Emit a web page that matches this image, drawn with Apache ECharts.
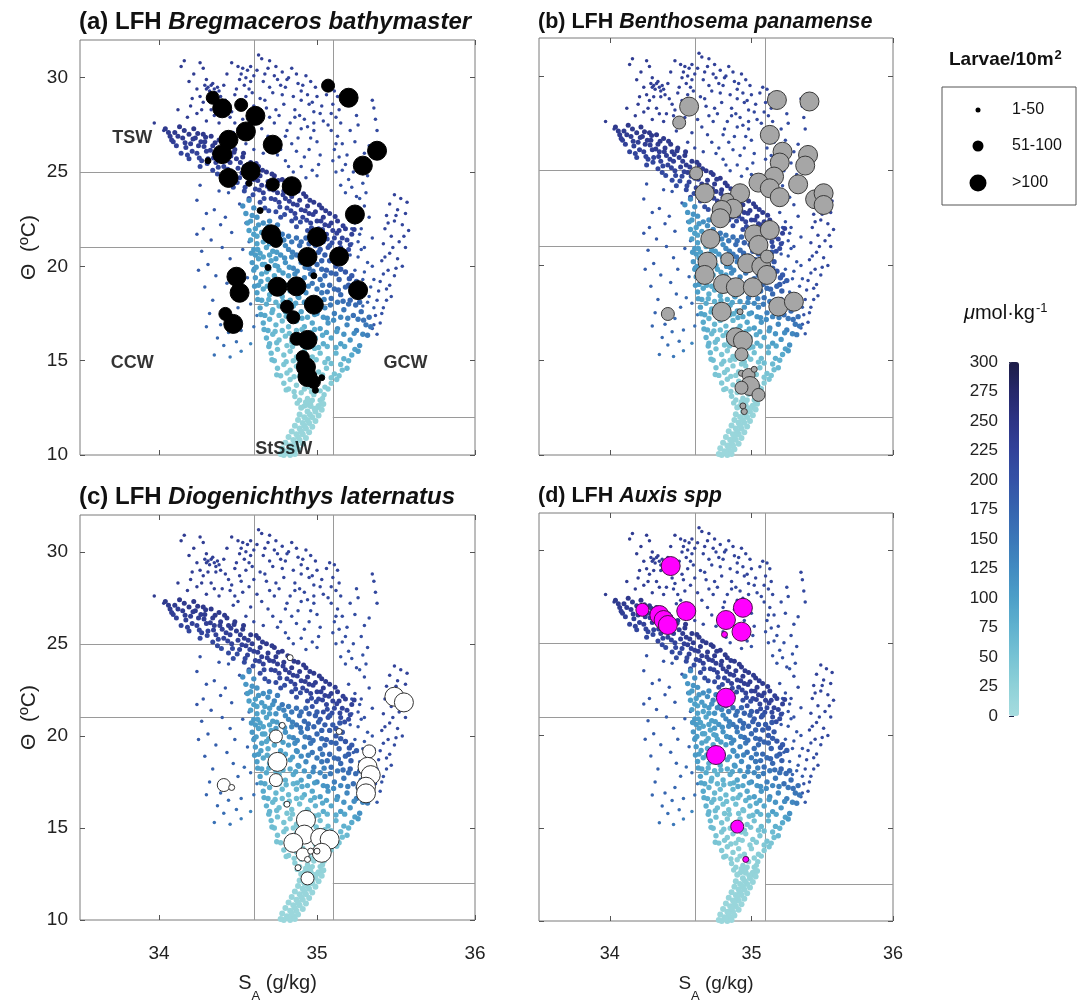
<!DOCTYPE html>
<html>
<head>
<meta charset="utf-8">
<title>LFH larvae on T-S diagrams</title>
<script src="https://cdn.jsdelivr.net/npm/echarts@6/dist/echarts.min.js"></script>
<style>
  html, body { margin: 0; padding: 0; background: #fff; }
  #chart { width: 1086px; height: 1004px; }
</style>
</head>
<body>
<div id="chart"></div>
<script>
// ---- axis ticks ----
const SAL_TICKS = [34, 35, 36];
const TEMP_TICKS = [10, 15, 20, 25, 30];
const O2_TICKS_STEP = 25;

// ---- CTD background: [S_A, Theta, O2 umol/kg] ----
const ctdUpper = [
  [33.97,27.6,236],[34.03,27.2,236],
  [34.16,30.9,235],[34.26,30.8,235],[34.28,30.5,232],[34.22,30.2,236],[34.30,29.9,232],
  [34.29,29.6,228],[34.31,29.5,230],[34.33,29.6,228],[34.35,29.4,226],[34.32,29.3,229],[34.37,29.5,227],[34.34,29.7,230],[34.30,29.4,231],[34.38,29.3,225],[34.36,29.2,224],
  [34.50,30.6,230],[34.53,30.5,228],[34.56,30.4,226],[34.58,30.6,229],[34.52,30.2,227],[34.55,30.0,225],[34.58,29.8,224],[34.54,29.6,226],[34.57,29.4,222],[34.59,29.2,220],[34.51,29.9,228],[34.60,30.1,223],[34.49,29.4,225],
  [34.42,28.8,225],[34.44,28.5,224],[34.46,28.2,222],[34.45,27.9,223],[34.48,27.6,220],[34.50,27.3,219],[34.47,27.1,221],[34.52,28.4,220],[34.40,28.0,226],
  [34.63,31.2,230],[34.70,30.9,228],[34.74,30.6,226],[34.78,30.3,224],[34.66,29.8,222],[34.72,29.2,220],[34.80,29.5,218],[34.85,29.0,220],[34.90,29.3,222],[34.95,28.6,218],[34.68,28.4,218],[34.76,28.0,215],[34.83,27.6,214],[34.92,27.8,216],[34.98,27.2,212],[34.88,26.8,210],[34.72,26.5,212],[34.95,26.2,208],[35.02,25.9,206],[34.80,25.6,205],[34.65,27.3,216],[34.90,25.3,204],[35.00,24.8,200],[34.86,28.3,219],[34.96,29.8,222],[35.00,29.0,220],
  [34.62,30.4,226],[34.67,30.2,226],[34.75,29.9,222],[34.82,30.0,222],[34.88,29.7,220],[34.93,30.1,224],[34.70,29.5,220],[34.78,29.1,219],[34.64,28.9,221],[34.90,28.8,218],[34.98,28.2,216],[34.73,27.6,216],[34.81,27.2,214],[34.86,27.9,216],[34.94,27.4,214],[35.03,28.5,218],[34.69,26.9,214],[34.77,26.2,210],[34.84,26.5,210],[34.92,25.8,206],[35.00,26.6,210],[34.97,25.1,204],[34.85,25.0,204],[34.66,26.0,212],[35.04,27.7,214],
  [35.08,29.4,222],[35.11,29.3,221],[35.13,29.0,219],[35.10,28.6,218],[35.14,28.3,217],[35.12,27.9,216],[35.15,27.6,214],[35.09,27.2,213],[35.13,26.9,212],[35.16,26.5,210],[35.11,26.2,208],[35.14,25.8,206],[35.18,25.4,204],[35.12,25.0,202],[35.20,24.6,200],
  [35.35,28.8,218],[35.36,28.4,216],[35.37,27.8,214],[35.38,27.2,212],[35.30,26.0,210],[35.28,25.4,206],[35.32,24.8,204],[35.24,26.6,208],[35.22,24.2,200],[35.27,23.6,196],
  [34.20,28.5,232],[34.24,28.1,230],[34.28,28.7,230],[34.33,28.3,228],[34.36,28.9,229],[34.30,27.7,228],[34.38,27.6,226],[34.26,29.0,232],[34.18,27.9,232],[34.12,28.3,234]
];

const ctdUpperExtra = [
  [34.14,30.6,236],[34.19,29.8,234],[34.24,29.4,232],[34.21,28.9,232],[34.27,28.3,230],[34.31,28.9,230],[34.35,28.0,228],[34.39,29.0,228],[34.41,29.6,228],[34.43,30.2,230],[34.46,30.8,232],
  [34.48,29.1,226],[34.51,28.7,224],[34.55,29.0,224],[34.57,28.1,222],[34.60,28.5,222],[34.53,27.8,222],[34.58,27.0,218],[34.62,27.7,218],[34.55,26.5,216],[34.60,26.2,214],
  [34.65,31.0,230],[34.69,30.5,228],[34.73,30.1,226],[34.77,29.6,224],[34.81,29.9,222],[34.84,30.5,224],[34.87,30.2,224],[34.91,29.6,222],[34.94,29.1,220],[34.97,28.7,218],
  [34.99,29.5,222],[35.02,28.1,216],[34.89,28.0,216],[34.79,28.6,218],[34.74,28.3,218],[34.70,27.9,216],[34.67,28.8,220],[34.80,26.9,212],[34.90,27.3,212],[34.96,26.8,210],
  [34.87,26.1,208],[34.75,25.9,208],[34.93,24.7,202],[35.01,25.4,204],[34.82,25.3,205],[34.98,27.6,212],
  [35.06,29.1,220],[35.09,28.1,216],[35.07,27.5,214],[35.12,26.5,210],[35.10,25.6,206],[35.16,25.1,204],[35.15,24.3,200],[35.19,25.9,206],[35.21,27.2,210],[35.25,28.0,212],
  [35.23,25.0,204],[35.29,24.4,200],[35.26,27.5,210],[35.33,26.4,208],[35.31,23.9,200],[35.18,23.9,200]
];

const ctdLeft = [
  [34.26,24.3,200],[34.24,23.5,198],[34.30,22.8,195],[34.28,22.0,192],[34.33,21.4,190],[34.27,20.8,188],[34.31,20.1,185],[34.36,19.5,182],[34.29,18.9,180],[34.34,18.2,178],[34.32,17.5,176],[34.39,16.9,172],[34.37,16.2,170],
  [34.44,23.9,196],[34.42,22.6,192],[34.46,21.8,188],[34.40,21.0,186],[34.45,20.4,184],[34.48,19.8,180],[34.43,19.1,178],[34.47,18.5,175],[34.50,17.8,172],[34.46,17.2,170],[34.52,16.6,165],[34.49,16.0,160],
  [34.55,22.3,190],[34.53,20.9,184],[34.56,19.4,176],[34.58,18.0,168],[34.60,16.8,160],[34.38,24.0,198],[34.35,23.0,196],
  [34.25,19.8,186],[34.30,16.8,172],[34.41,15.8,162],[34.35,15.3,158],[34.45,15.2,150],[34.52,15.5,140],[34.58,15.9,130],[34.24,21.7,194],[34.39,22.2,194],[34.51,23.3,198],[34.57,21.3,182],[34.60,19.9,170],[34.54,18.3,166],[34.44,16.5,164],[34.62,17.4,150]
];

const ctdRight = [
  [35.20,22.8,205],[35.24,22.3,205],[35.27,21.7,200],[35.22,21.2,198],[35.30,21.0,200],[35.26,20.5,195],[35.32,20.2,196],[35.24,19.8,192],[35.29,19.3,190],
  [35.34,18.9,190],[35.27,18.6,182],[35.32,18.1,180],[35.30,23.2,210],[35.33,22.6,210],[35.28,22.0,206],[35.35,21.5,205],[35.25,23.7,210],[35.35,20.0,198],
  [35.49,23.8,225],[35.53,23.6,225],[35.57,23.4,224],[35.46,23.3,224],[35.51,23.0,222],[35.56,22.8,222],[35.44,22.7,222],[35.49,22.4,220],[35.54,22.2,220],
  [35.58,21.9,220],[35.43,22.0,220],[35.47,21.6,218],[35.52,21.3,218],[35.56,21.0,216],[35.42,21.2,218],[35.46,20.7,216],[35.51,20.4,214],[35.54,20.0,212],
  [35.41,20.3,216],[35.45,19.8,212],[35.49,19.5,210],[35.40,19.2,210],[35.44,18.8,208],[35.47,18.4,206],[35.38,18.2,205],[35.42,17.8,204],[35.37,17.4,200],
  [35.40,17.0,198],[35.35,16.7,195],[35.38,16.4,192],
  [35.22,22.0,200],[35.26,21.3,198],[35.21,20.6,194],[35.28,20.9,198],[35.23,19.1,186],[35.30,19.7,190],[35.36,19.3,194],[35.33,18.4,186],[35.29,17.9,176],[35.36,17.8,188],
  [35.50,22.7,222],[35.45,22.3,220],[35.55,21.6,218],[35.48,21.0,216],[35.43,20.5,214],[35.50,19.9,212],[35.42,19.6,210],[35.46,19.0,208],[35.39,18.7,206],[35.44,18.2,204],[35.41,17.5,200],[35.36,16.9,194]
];

const ctdRidge = [
  [34.04,27.3,240],[34.07,26.9,236],[34.10,27.1,238],[34.09,26.6,230],
  [34.13,27.4,242],[34.15,26.8,236],[34.17,26.3,228],[34.14,26.0,222],[34.19,27.0,240],[34.20,26.5,232],[34.18,25.9,224],
  [34.22,27.3,244],[34.23,26.8,238],[34.25,26.4,232],[34.24,26.0,226],[34.27,25.6,220],[34.28,27.0,242],[34.29,26.6,236],[34.30,26.1,230],[34.26,25.3,215],[34.31,25.7,222],
  [34.33,26.9,242],[34.34,26.4,236],[34.35,26.0,232],[34.36,25.5,226],[34.34,25.1,218],[34.38,26.7,240],[34.39,26.2,235],[34.40,25.8,230],[34.37,24.9,214],[34.41,25.3,224],
  [34.43,26.4,240],[34.44,26.0,236],[34.45,25.5,230],[34.46,25.0,224],[34.44,24.5,212],[34.48,26.2,240],[34.49,25.7,234],[34.50,25.2,228],[34.47,24.2,208],[34.51,24.7,220],
  [34.53,25.8,240],[34.54,25.3,236],[34.55,24.9,232],[34.56,24.4,224],[34.54,24.0,212],[34.58,25.5,240],[34.59,25.0,236],[34.60,24.6,230],[34.57,23.6,205],[34.61,24.1,222],
  [34.63,25.3,242],[34.64,24.8,238],[34.65,24.3,232],[34.66,23.9,226],[34.64,23.4,212],[34.68,25.0,242],[34.69,24.5,236],[34.70,24.1,232],[34.67,23.1,205],[34.71,23.6,222],
  [34.73,24.8,242],[34.74,24.3,238],[34.75,23.9,234],[34.76,23.4,226],[34.74,22.9,212],[34.78,24.6,242],[34.79,24.0,238],[34.80,23.6,232],[34.77,22.6,205],[34.81,23.1,222],
  [34.83,24.2,242],[34.84,23.7,238],[34.85,23.3,234],[34.86,22.8,226],[34.84,22.4,212],[34.88,24.0,240],[34.89,23.5,236],[34.90,23.0,230],[34.87,22.1,205],[34.91,22.6,220],
  [34.93,23.7,242],[34.94,23.2,238],[34.95,22.8,232],[34.96,22.3,224],[34.94,21.9,210],[34.98,23.4,240],[34.99,22.9,236],[35.00,22.4,228],[34.97,21.6,204],[35.01,22.0,218],
  [35.03,23.1,240],[35.04,22.6,236],[35.05,22.2,230],[35.06,21.7,220],[35.04,21.3,208],[35.08,22.8,238],[35.09,22.3,232],[35.10,21.9,226],[35.07,21.0,204],[35.11,21.5,216],
  [35.13,22.4,236],[35.14,21.9,230],[35.16,21.5,224],[35.15,21.0,212],[35.18,22.0,232],[35.19,21.4,222],[35.20,20.9,212],[35.22,21.7,228]
];

const ctdRidgeExtra = [
  [34.06,27.1,238],[34.08,26.7,232],[34.11,26.4,226],[34.12,26.9,236],
  [34.16,27.2,240],[34.165,26.55,232],[34.21,26.1,226],[34.19,25.7,218],[34.215,26.75,236],
  [34.245,27.05,242],[34.265,26.6,236],[34.255,25.75,222],[34.285,26.35,232],[34.305,25.45,216],[34.295,26.85,240],
  [34.325,26.15,234],[34.345,25.75,228],[34.355,26.55,240],[34.375,25.25,220],[34.385,26.0,232],[34.395,24.75,210],
  [34.415,26.55,240],[34.425,25.6,230],[34.435,25.15,222],[34.455,25.85,234],[34.465,24.75,216],[34.475,26.05,238],[34.495,24.45,210],
  [34.515,25.5,234],[34.525,24.95,226],[34.535,26.0,240],[34.545,24.2,214],[34.565,25.2,232],[34.575,24.7,224],[34.595,23.8,208],
  [34.615,25.45,240],[34.625,24.55,232],[34.635,24.05,224],[34.655,25.1,238],[34.665,23.6,214],[34.685,24.25,232],[34.695,22.95,205],
  [34.715,24.9,240],[34.725,24.05,232],[34.735,23.55,224],[34.755,24.55,238],[34.765,23.15,214],[34.785,23.8,230],[34.795,22.75,206],
  [34.815,24.35,240],[34.825,23.45,232],[34.835,22.95,222],[34.855,24.05,238],[34.865,22.55,212],[34.875,23.25,230],[34.895,22.35,208],
  [34.915,23.85,240],[34.925,22.95,232],[34.935,22.45,222],[34.955,23.5,238],[34.965,22.05,212],[34.975,22.75,230],[34.995,21.85,208],
  [35.015,23.25,238],[35.025,22.4,230],[35.035,21.95,222],[35.055,22.95,236],[35.065,21.45,210],[35.075,22.15,228],[35.095,21.25,208],
  [35.115,22.65,234],[35.125,21.75,226],[35.145,21.25,216],[35.165,22.15,230],[35.175,20.75,206],[35.21,21.15,214],[35.235,21.95,226]
];

const ctdCore = [
  [34.55,22.8,110],[34.58,22.4,105],[34.62,22.6,115],[34.60,23.1,120],[34.66,22.3,120],
  [34.57,21.9,100],[34.61,22.0,100],[34.65,21.8,105],[34.69,22.1,120],[34.73,21.9,130],[34.78,21.7,150],
  [34.58,21.4,100],[34.62,21.6,95],[34.66,21.3,95],[34.70,21.5,105],[34.74,21.2,115],[34.79,21.4,135],[34.84,21.3,150],[34.89,21.1,165],[34.95,21.2,180],[35.02,20.9,190],
  [34.60,20.9,105],[34.64,20.7,95],[34.68,21.0,92],[34.72,20.8,100],[34.77,20.6,115],[34.82,20.9,130],[34.87,20.6,150],[34.92,20.8,165],[34.98,20.5,175],[35.05,20.6,185],[35.12,20.4,195],
  [34.59,20.2,110],[34.63,20.4,98],[34.67,20.1,90],[34.71,20.3,92],[34.75,20.0,100],[34.80,20.2,115],[34.85,19.9,130],[34.90,20.2,145],[34.95,19.9,160],[35.00,20.1,170],[35.06,19.8,180],[35.12,20.0,190],[35.18,19.7,195],
  [34.61,19.4,105],[34.65,19.6,95],[34.69,19.3,85],[34.73,19.5,88],[34.77,19.2,95],[34.82,19.5,105],[34.87,19.2,120],[34.92,19.4,135],[34.97,19.1,150],[35.02,19.3,160],[35.08,19.0,170],[35.14,19.3,180],[35.20,19.0,185],
  [34.62,18.6,100],[34.66,18.8,90],[34.70,18.5,80],[34.74,18.7,80],[34.78,18.4,85],[34.83,18.7,95],[34.88,18.4,110],[34.93,18.6,125],[34.98,18.3,140],[35.03,18.6,150],[35.09,18.3,160],[35.15,18.5,170],[35.21,18.2,175],
  [34.64,17.8,95],[34.68,18.0,85],[34.72,17.7,75],[34.76,17.9,72],[34.80,17.6,75],[34.85,17.9,85],[34.90,17.6,95],[34.95,17.8,110],[35.00,17.5,120],[35.05,17.8,130],[35.11,17.5,140],[35.17,17.7,150],[35.23,17.4,160],[35.28,17.6,165],
  [34.66,17.0,85],[34.70,17.2,75],[34.74,16.9,68],[34.78,17.1,62],[34.82,16.8,62],[34.87,17.1,68],[34.92,16.8,78],[34.97,17.0,90],[35.02,16.7,100],[35.07,17.0,110],[35.13,16.7,120],[35.19,16.9,130],[35.25,16.6,140],[35.31,16.9,150],
  [34.68,16.2,75],[34.72,16.4,65],[34.76,16.1,58],[34.80,16.3,52],[34.84,16.0,50],[34.89,16.3,55],[34.94,16.0,62],[34.99,16.2,72],[35.04,15.9,82],[35.09,16.2,90],[35.15,15.9,100],[35.21,16.1,110],[35.27,15.8,118],
  [34.71,15.4,62],[34.75,15.6,55],[34.79,15.3,48],[34.83,15.5,42],[34.87,15.2,40],[34.92,15.5,42],[34.97,15.2,48],[35.02,15.4,55],[35.07,15.1,62],[35.12,15.4,70],[35.17,15.1,78],[35.22,15.3,85],
  [34.75,14.6,50],[34.79,14.8,44],[34.83,14.5,38],[34.87,14.7,34],[34.91,14.4,32],[34.96,14.7,34],[35.01,14.4,38],[35.06,14.6,44],[35.11,14.3,50],[35.16,14.5,56],
  [34.79,13.8,40],[34.83,14.0,35],[34.87,13.7,30],[34.91,13.9,28],[34.95,13.6,26],[35.00,13.9,28],[35.05,13.6,32],[35.09,13.8,36],
  [34.86,13.1,28],[34.90,13.3,25],[34.94,13.0,22],[34.98,13.2,22],[35.02,12.9,24],
  [34.92,12.6,22],[34.96,12.8,20],[35.00,12.5,20]
];

const ctdCoreFill = [
  [34.62,21.2,98],[34.70,21.2,98],[34.80,21.1,125],[34.90,21.3,160],[35.00,21.3,185],[35.08,21.1,195],
  [34.61,20.6,102],[34.66,20.5,92],[34.74,20.4,105],[34.84,20.5,130],[34.94,20.4,160],[35.03,20.3,178],[35.10,20.6,188],[35.16,20.2,195],
  [34.60,19.8,108],[34.68,19.7,88],[34.76,19.8,95],[34.86,19.6,122],[34.96,19.6,150],[35.05,19.5,168],[35.12,19.6,178],[35.22,19.5,190],
  [34.63,19.0,100],[34.72,18.9,82],[34.80,19.0,95],[34.90,18.9,122],[35.00,18.8,145],[35.11,18.8,165],[35.18,18.9,175],[35.25,19.2,185],
  [34.65,18.2,92],[34.74,18.1,75],[34.83,18.2,85],[34.92,18.1,108],[35.02,18.0,128],[35.13,18.1,148],[35.20,18.0,160],[35.27,18.1,168],
  [34.67,17.4,88],[34.76,17.4,68],[34.85,17.4,72],[34.94,17.3,88],[35.04,17.3,110],[35.15,17.3,130],[35.26,17.2,150],[35.33,17.3,158],
  [34.69,16.6,80],[34.78,16.6,60],[34.87,16.6,60],[34.96,16.5,75],[35.06,16.5,92],[35.17,16.4,112],[35.29,16.4,130],[35.34,16.8,150],
  [34.70,15.9,70],[34.81,15.8,48],[34.91,15.8,50],[35.01,15.7,62],[35.12,15.7,80],[35.24,15.6,98],
  [34.73,15.0,56],[34.85,15.0,40],[34.95,14.9,40],[35.05,14.9,50],[35.15,14.8,62],[35.20,15.0,72],
  [34.77,14.2,44],[34.89,14.2,30],[34.99,14.1,32],[35.09,14.1,42],[35.14,14.2,48],
  [34.82,13.5,34],[34.92,13.5,26],[35.02,13.4,28],[35.07,13.5,32],
  [34.89,12.9,24],[34.97,12.9,21],[35.03,12.7,22],
  [34.56,22.3,104],[34.63,22.2,110],[34.70,22.4,125],[34.75,22.2,140],[34.59,22.7,112],[34.53,23.2,120],[34.57,23.5,128],
  [34.60,21.7,98],[34.67,21.6,100],[34.72,21.7,118],[34.76,21.5,128],[34.82,21.6,145],[34.87,21.5,158],[34.93,21.5,172],[34.99,21.1,184],
  [34.585,20.7,106],[34.625,20.9,100],[34.70,20.6,96],[34.745,20.75,104],[34.795,20.45,118],[34.845,20.75,138],[34.895,20.45,154],[34.945,20.65,168],[35.01,20.75,180],[35.08,20.3,186],[35.145,20.7,192],
  [34.615,19.95,104],[34.655,20.1,94],[34.695,19.85,88],[34.735,20.05,94],[34.785,19.65,100],[34.825,19.95,112],[34.875,19.75,128],[34.925,19.95,142],[34.975,19.75,156],[35.03,19.85,166],[35.09,19.65,176],[35.15,19.85,186],[35.205,19.35,190],
  [34.605,18.95,106],[34.645,19.2,98],[34.685,18.95,86],[34.755,18.95,86],[34.845,18.85,102],[34.875,19.15,118],[34.945,18.95,132],[35.035,19.0,152],[35.065,18.65,160],[35.135,18.75,172],[35.215,18.65,182],
  [34.625,18.25,98],[34.695,18.25,80],[34.785,18.15,80],[34.865,18.05,92],[34.885,18.35,104],[34.975,18.05,124],[35.045,18.25,138],[35.085,17.95,146],[35.165,18.15,160],[35.245,17.95,166],
  [34.645,17.45,92],[34.715,17.55,78],[34.805,17.35,70],[34.875,17.45,78],[34.905,17.25,86],[34.985,17.45,102],[35.065,17.25,116],[35.105,17.15,124],[35.195,17.25,138],[35.295,17.15,156],
  [34.665,16.65,82],[34.735,16.55,64],[34.825,16.45,56],[34.905,16.65,62],[34.985,16.65,82],[35.035,16.35,86],[35.125,16.55,104],[35.235,16.45,122],[35.32,16.35,140],
  [34.695,15.75,70],[34.745,15.95,60],[34.845,15.75,46],[34.945,15.95,52],[34.985,15.65,58],[35.065,15.75,72],[35.175,15.75,90],[35.26,15.5,104],
  [34.715,15.05,60],[34.805,14.95,46],[34.885,15.05,38],[34.93,14.8,36],[34.995,15.05,46],[35.09,14.85,58],[35.19,14.6,66],
  [34.745,14.25,48],[34.81,14.35,40],[34.855,14.15,34],[34.935,14.35,30],[35.035,14.25,36],[35.125,14.0,46],
  [34.805,13.45,36],[34.855,13.35,30],[34.965,13.35,24],[35.045,13.2,28],
  [34.875,12.75,24],[34.935,12.65,21],[35.035,13.0,24]
];

const ctdTail = [
  [34.96,12.6,20],[35.01,12.6,20],[34.94,12.3,18],[34.99,12.3,18],[34.92,12.0,17],[34.97,12.0,17],[34.91,11.7,16],[34.95,11.7,16],
  [34.89,11.4,15],[34.93,11.4,15],[34.87,11.1,14],[34.91,11.1,14],[34.85,10.8,13],[34.89,10.8,13],[34.83,10.5,12],[34.87,10.5,12],
  [34.81,10.2,12],[34.85,10.2,12],[34.79,10.0,12],[34.83,10.0,12],
  [34.985,12.45,19],[34.955,12.15,18],[34.94,11.85,17],[34.92,11.55,16],[34.90,11.25,15],[34.88,10.95,14],[34.86,10.65,13],[34.84,10.35,12],[34.82,10.1,12],
  [34.90,12.5,20],[35.03,12.4,19],[34.89,12.15,18],[35.01,12.1,18],[34.88,11.85,17],[34.99,11.8,17],[34.86,11.55,16],[34.97,11.5,16],
  [34.84,11.25,15],[34.95,11.2,15],[34.82,10.95,14],[34.93,10.9,14],[34.80,10.65,13],[34.91,10.6,13],[34.78,10.35,12],[34.88,10.3,12],
  [34.77,10.05,12],[34.86,10.05,12],[34.93,12.8,21],[35.04,12.7,21]
];

// ---- larvae stations: [S_A, Theta, abundance class 1:1-50, 2:51-100, 3:>100] ----
const larvaeA = [
  [34.34,28.94,2],[34.40,28.38,3],[34.52,28.56,2],[34.61,27.98,3],[34.55,27.15,3],[34.44,26.71,3],[34.40,25.95,3],[34.31,25.60,1],
  [34.44,24.69,3],[34.58,25.04,3],[34.57,24.40,1],[34.72,26.45,3],[34.72,24.34,2],[34.84,24.25,3],[34.64,22.96,1],[34.71,21.70,3],
  [34.74,21.35,2],[35.00,21.56,3],[34.94,20.50,3],[35.14,20.52,3],[34.69,19.94,1],[34.49,19.45,3],[34.51,18.60,3],[34.75,18.92,3],
  [34.87,18.94,3],[34.98,19.50,1],[34.81,17.86,2],[34.85,17.30,2],[34.98,17.97,3],[35.26,18.74,3],[34.42,17.48,2],[34.47,16.95,3],
  [34.87,16.16,2],[34.94,16.10,3],[34.91,15.19,2],[34.93,14.66,3],[34.94,14.13,3],[34.98,13.87,2],[35.03,14.10,1],[34.99,13.43,1],
  [35.07,29.58,2],[35.20,28.94,3],[35.38,26.13,3],[35.29,25.34,3],[35.24,22.75,3]
];
const larvaeB = [
  [34.56,28.38,3],[34.49,27.54,2],[35.18,28.73,3],[35.41,28.65,3],[35.13,26.89,3],[35.22,26.00,3],[35.20,25.43,3],[35.40,25.83,3],
  [35.38,25.27,3],[34.61,24.86,2],[35.16,24.69,3],[35.05,24.37,3],[35.13,24.07,3],[35.33,24.28,3],[35.20,23.60,3],[34.67,23.81,3],
  [34.92,23.81,3],[34.83,23.46,2],[34.87,23.00,3],[34.79,22.93,3],[34.78,22.49,3],[35.45,23.49,3],[35.51,23.81,3],[35.51,23.19,3],
  [34.71,21.40,3],[35.02,21.64,3],[35.13,21.87,3],[35.05,21.08,3],[34.69,20.20,3],[34.83,20.33,2],[34.97,20.11,3],[35.07,19.94,3],
  [35.11,20.47,2],[35.11,19.50,3],[34.67,19.50,3],[34.80,19.02,3],[34.89,18.85,3],[35.01,18.85,3],[34.79,17.56,3],[34.92,17.56,1],
  [35.19,17.83,3],[35.30,18.09,3],[34.41,17.44,2],[34.89,16.21,3],[34.94,16.03,3],[34.93,15.31,2],[34.93,14.31,1],[34.98,14.22,2],
  [34.99,13.64,3],[34.93,13.55,2],[35.05,13.17,2],[34.94,12.59,1],[34.95,12.29,1],[35.02,14.52,1]
];
const larvaeC = [
  [35.49,22.13,3],[35.55,21.82,3],[35.33,19.16,2],[35.32,18.32,3],[35.34,17.87,3],[35.31,17.24,3],[35.31,16.88,3],[35.14,20.24,1],
  [34.83,24.25,1],[34.78,20.57,1],[34.74,19.97,2],[34.75,18.59,3],[34.74,17.60,2],[34.41,17.33,2],[34.46,17.20,1],[34.81,16.29,1],
  [34.93,15.44,3],[34.92,14.64,3],[34.85,14.19,3],[35.02,14.46,3],[35.08,14.37,3],[35.03,13.65,3],[34.91,13.56,2],[34.96,13.74,1],
  [35.00,13.74,1],[34.94,13.29,1],[34.88,12.84,1],[34.94,12.26,2]
];
const larvaeD = [
  [34.43,29.14,3],[34.23,26.78,2],[34.35,26.50,3],[34.38,26.23,3],[34.41,25.96,3],[34.54,26.71,3],[34.82,26.23,3],[34.94,26.89,3],
  [34.93,25.60,3],[34.81,25.45,1],[34.82,22.04,3],[34.75,18.95,3],[34.90,15.09,2],[34.96,13.32,1]
];

// ---- water-mass boundaries and labels ----
const massBounds = [
  [[33.5,25],[34.6,25]],
  [[33.5,21],[34.6,21]],
  [[34.6,18],[35.1,18]],
  [[34.6,10],[34.6,32]],
  [[35.1,10],[35.1,32]],
  [[35.1,12],[36,12]]
];
const massLabels = [[33.83,26.8,'TSW'],[33.83,14.9,'CCW'],[35.56,14.9,'GCW'],[34.79,10.3,'StSsW']];

// ---- legend classes ----
const classLabels = ['1-50', '51-100', '>100'];

const FONT = '"Liberation Sans", Arial, Helvetica, sans-serif';
const BUBBLE_SIZE = [6, 13, 19];
const LEGEND_SIZE = [5, 11, 17];
const O2_COLORS = ['#a6dcdf','#8fd1d8','#77c3d4','#60b2cf','#4d9fc8','#428bc1','#3b77b8','#3664af','#3452a6','#32429a','#2d3485','#26286a','#1d1d48'];

const panels = [
  { tag: '(a) LFH ', species: 'Bregmaceros bathymaster', larvae: larvaeA, fill: '#000000', edge: '#000000' },
  { tag: '(b) LFH ', species: 'Benthosema panamense', larvae: larvaeB, fill: '#a6a6a6', edge: '#3a3a3a' },
  { tag: '(c) LFH ', species: 'Diogenichthys laternatus', larvae: larvaeC, fill: '#ffffff', edge: '#333333' },
  { tag: '(d) LFH ', species: 'Auxis spp', larvae: larvaeD, fill: '#ff00ff', edge: '#4a1048' }
];
// left column panels were placed a bit larger in the source figure
const layout = [
  { left: 80, top: 40, width: 395, height: 415, titleTop: 10, titleSize: 24, tickSize: 19, xLab: false, yLab: true },
  { left: 539, top: 38, width: 354, height: 417, titleTop: 11, titleSize: 21.5, tickSize: 18, xLab: false, yLab: false },
  { left: 80, top: 515, width: 395, height: 408, titleTop: 485, titleSize: 24, tickSize: 19, xLab: true, yLab: true },
  { left: 539, top: 513, width: 354, height: 410, titleTop: 485, titleSize: 21.5, tickSize: 18, xLab: true, yLab: false }
];

const bgGroups = [
  { data: ctdUpper.concat(ctdUpperExtra, ctdLeft, ctdRight), size: 3.5 },
  { data: ctdRidge.concat(ctdRidgeExtra), size: 5 },
  { data: ctdCore.concat(ctdCoreFill), size: 5.4 },
  { data: ctdTail, size: 6 }
];

const grids = [], xAxes = [], yAxes = [], series = [], titles = [], bgIndex = [];
const tickStyle = { show: true, inside: true, length: 5, lineStyle: { color: '#555', width: 1 } };

panels.forEach(function (p, i) {
  const L = layout[i];
  grids.push({ left: L.left, top: L.top, width: L.width, height: L.height, show: true, borderColor: '#7a7a7a', borderWidth: 1 });
  xAxes.push({
    type: 'value', gridIndex: i, position: 'bottom', min: 33.5, max: 36,
    axisLine: { show: false }, splitLine: { show: false },
    axisTick: Object.assign({ customValues: SAL_TICKS }, tickStyle),
    axisLabel: { show: L.xLab, customValues: SAL_TICKS, fontSize: L.tickSize, color: '#222', margin: 24, fontFamily: FONT },
    name: L.xLab ? '{s|S}{sub|A}{s| (g/kg)}' : '', nameLocation: 'middle', nameGap: 53,
    nameTextStyle: { rich: {
      s: { fontSize: L.tickSize + 1, color: '#222', fontFamily: FONT },
      sub: { fontSize: 13, color: '#222', fontFamily: FONT, verticalAlign: 'bottom', padding: [0, 0, -10, 0] }
    } }
  });
  xAxes.push({
    type: 'value', gridIndex: i, position: 'top', min: 33.5, max: 36,
    axisLine: { show: false }, splitLine: { show: false }, axisLabel: { show: false },
    axisTick: Object.assign({ customValues: SAL_TICKS }, tickStyle)
  });
  yAxes.push({
    type: 'value', gridIndex: i, position: 'left', min: 10, max: 32,
    axisLine: { show: false }, splitLine: { show: false },
    axisTick: Object.assign({ customValues: TEMP_TICKS }, tickStyle),
    axisLabel: { show: L.yLab, customValues: TEMP_TICKS, fontSize: L.tickSize, color: '#222', margin: 12, fontFamily: FONT },
    name: L.yLab ? 'Θ  (ºC)' : '', nameLocation: 'middle', nameGap: 40, nameRotate: 90,
    nameTextStyle: { fontSize: 21, color: '#222', fontFamily: FONT }
  });
  yAxes.push({
    type: 'value', gridIndex: i, position: 'right', min: 10, max: 32,
    axisLine: { show: false }, splitLine: { show: false }, axisLabel: { show: false },
    axisTick: Object.assign({ customValues: TEMP_TICKS }, tickStyle)
  });

  titles.push({
    text: '{n|' + p.tag + '}{i|' + p.species + '}', left: L.left - 1, top: L.titleTop, padding: 0,
    textStyle: { rich: {
      n: { fontSize: L.titleSize, fontWeight: 'bold', color: '#111', fontFamily: FONT },
      i: { fontSize: L.titleSize, fontWeight: 'bold', fontStyle: 'italic', color: '#111', fontFamily: FONT }
    } }
  });

  series.push({
    type: 'lines', coordinateSystem: 'cartesian2d', xAxisIndex: 2 * i, yAxisIndex: 2 * i,
    data: massBounds.map(function (c) { return { coords: c }; }),
    lineStyle: { color: '#9a9a9a', width: 1, opacity: 1 }, silent: true, z: 1
  });

  bgGroups.forEach(function (g) {
    bgIndex.push(series.length);
    series.push({
      type: 'scatter', xAxisIndex: 2 * i, yAxisIndex: 2 * i, data: g.data,
      symbolSize: g.size, silent: true, z: 2, itemStyle: { opacity: 1 }
    });
  });

  series.push({
    type: 'scatter', xAxisIndex: 2 * i, yAxisIndex: 2 * i, data: p.larvae, z: 5,
    symbolSize: function (v) { return BUBBLE_SIZE[v[2] - 1]; },
    itemStyle: { color: p.fill, borderColor: p.edge, borderWidth: 1, opacity: 1 }
  });

  if (i === 0) {
    series.push({
      type: 'scatter', xAxisIndex: 0, yAxisIndex: 0, data: massLabels, symbolSize: 1, z: 6, silent: true,
      itemStyle: { color: 'rgba(0,0,0,0)' },
      label: { show: true, position: 'inside', formatter: function (d) { return d.value[2]; },
        fontSize: 18, fontWeight: 'bold', color: '#000', fontFamily: FONT }
    });
  }
});

// colour bar axis
grids.push({ left: 1009, top: 362, width: 10, height: 354, show: false });
xAxes.push({ type: 'value', gridIndex: 4, min: 0, max: 1, show: false });
yAxes.push({
  type: 'value', gridIndex: 4, position: 'left', min: 0, max: 300, interval: O2_TICKS_STEP,
  axisLine: { show: false }, splitLine: { show: false },
  axisTick: { show: true, inside: true, length: 5, lineStyle: { color: '#1d2347', width: 1 } },
  axisLabel: { fontSize: 17, color: '#222', margin: 11, fontFamily: FONT }
});
series.push({ type: 'scatter', xAxisIndex: 8, yAxisIndex: 8, data: [] });

const chart = echarts.init(document.getElementById('chart'), null, { renderer: 'canvas' });
chart.setOption({
  animation: false,
  backgroundColor: '#ffffff',
  textStyle: { fontFamily: FONT },
  title: titles,
  grid: grids,
  xAxis: xAxes,
  yAxis: yAxes,
  visualMap: {
    type: 'continuous', min: 0, max: 300, dimension: 2, seriesIndex: bgIndex,
    calculable: false, left: 1009, top: 362, itemWidth: 10, itemHeight: 354, padding: 0,
    inRange: { color: O2_COLORS }, text: null
  },
  graphic: [
    { type: 'text', left: 949, top: 49, style: {
      text: '{b|Larvae/10m}{sup|2}', rich: {
        b: { fontSize: 19, fontWeight: 'bold', fill: '#111', fontFamily: FONT },
        sup: { fontSize: 13, fontWeight: 'bold', fill: '#111', fontFamily: FONT, verticalAlign: 'top', padding: [0, 0, 9, 1] }
      } } },
    { type: 'rect', shape: { x: 942, y: 87, width: 134, height: 118 }, style: { fill: '#fff', stroke: '#555', lineWidth: 1 } },
    { type: 'circle', shape: { cx: 978, cy: 110, r: LEGEND_SIZE[0] / 2 }, style: { fill: '#000' } },
    { type: 'circle', shape: { cx: 978, cy: 146, r: LEGEND_SIZE[1] / 2 }, style: { fill: '#000' } },
    { type: 'circle', shape: { cx: 978, cy: 183, r: LEGEND_SIZE[2] / 2 }, style: { fill: '#000' } },
    { type: 'text', x: 1012, y: 110, style: { text: classLabels[0], fontSize: 16, fill: '#111', fontFamily: FONT, verticalAlign: 'middle' } },
    { type: 'text', x: 1012, y: 146, style: { text: classLabels[1], fontSize: 16, fill: '#111', fontFamily: FONT, verticalAlign: 'middle' } },
    { type: 'text', x: 1012, y: 183, style: { text: classLabels[2], fontSize: 16, fill: '#111', fontFamily: FONT, verticalAlign: 'middle' } },
    { type: 'text', left: 964, top: 302, style: {
      text: '{i|μ}{n|mol·kg}{sup|-1}', rich: {
        i: { fontSize: 20, fontStyle: 'italic', fill: '#111', fontFamily: FONT },
        n: { fontSize: 20, fill: '#111', fontFamily: FONT },
        sup: { fontSize: 13, fill: '#111', fontFamily: FONT, verticalAlign: 'top', padding: [0, 0, 9, 1] }
      } } }
  ],
  series: series
});
</script>
</body>
</html>
